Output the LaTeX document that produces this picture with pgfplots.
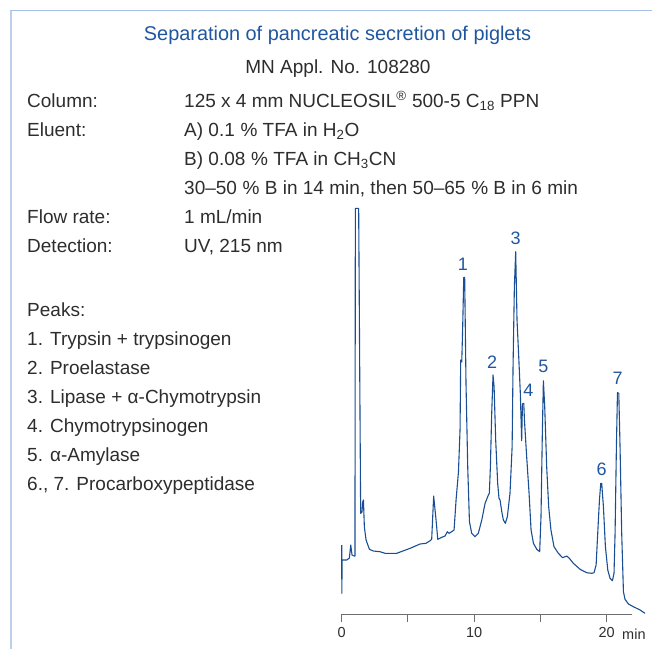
\documentclass[border=0pt]{standalone}
\usepackage{fontspec}
\setmainfont{Liberation Sans}
\usepackage{pgfplots}
\pgfplotsset{compat=1.18}

\definecolor{framecol}{RGB}{165,192,228}
\definecolor{frameleft}{RGB}{188,208,234}
\definecolor{titleblue}{RGB}{32,86,160}
\definecolor{curveblue}{RGB}{26,78,148}
\definecolor{bodytext}{RGB}{45,45,45}
\definecolor{axisgray}{RGB}{110,110,110}

\newcommand{\body}{\fontsize{19}{19}\selectfont\color{bodytext}}
\newcommand{\pc}{\hspace{0.3em}\%}

\begin{document}
\begin{tikzpicture}
\useasboundingbox (0,0) rectangle (652pt,-649pt);
\draw[frameleft, line width=2pt] (11pt,-649pt) -- (11pt,-10.5pt);
\draw[framecol, line width=1.6pt] (10pt,-10.5pt) -- (652pt,-10.5pt);

\tikzset{lab/.style={anchor=base west, inner sep=0pt, font=\body}}
\node[anchor=base, inner sep=0pt, font=\fontsize{19.9}{19.9}\selectfont, text=titleblue] at (337.5pt,-40pt) {Separation of pancreatic secretion of piglets};
\node[anchor=base, inner sep=0pt, font=\body] at (338pt,-73pt) {MN Appl. No. 108280};

\node[lab] at (27pt,-107pt) {Column:};
\node[lab] at (184pt,-107pt) {125 x 4 mm NUCLEOSIL\textsuperscript{®} 500-5 C\textsubscript{18} PPN};
\node[lab] at (27pt,-136pt) {Eluent:};
\node[lab] at (184pt,-136pt) {A) 0.1\pc{} TFA in H\textsubscript{2}O};
\node[lab] at (184pt,-165pt) {B) 0.08\pc{} TFA in CH\textsubscript{3}CN};
\node[lab] at (184pt,-194pt) {30--50\pc{} B in 14 min, then 50--65\pc{} B in 6 min};
\node[lab] at (27pt,-223pt) {Flow rate:};
\node[lab] at (184pt,-223pt) {1 mL/min};
\node[lab] at (27pt,-252pt) {Detection:};
\node[lab] at (184pt,-252pt) {UV, 215 nm};

\node[lab] at (27pt,-316pt) {Peaks:};
\node[lab] at (27pt,-345pt) {1. Trypsin + trypsinogen};
\node[lab] at (27pt,-374pt) {2. Proelastase};
\node[lab] at (27pt,-403pt) {3. Lipase + α-Chymotrypsin};
\node[lab] at (27pt,-432pt) {4. Chymotrypsinogen};
\node[lab] at (27pt,-461pt) {5. α-Amylase};
\node[lab] at (27pt,-490pt) {6., 7. Procarboxypeptidase};

\begin{axis}[
    at={(341.7pt,-614pt)}, anchor=south west,
    scale only axis,
    width=290.2pt, height=406pt,
    xmin=0, xmax=21.9, ymin=0, ymax=406,
    clip=false,
    axis x line=bottom, axis y line=none,
    x axis line style={-, axisgray, line width=1pt},
    xtick={0,5,10,15,20}, xticklabels={0,,10,,20},
    ytick=\empty,
    tick align=outside, major tick length=8pt,
    tick style={axisgray, line width=1pt},
    xticklabel style={font=\fontsize{14.5}{14.5}\selectfont, text=bodytext, yshift=-2pt},
    /pgf/number format/assume math mode=true,
]
\addplot[curveblue, line width=1.1pt, line join=round] coordinates {
(0,69) (0.01,20.7) (0.03,54) (0.38,54) (0.58,56) (0.68,69) (0.78,59) (0.93,58) (1.0,58)
(1.03,405.7) (1.28,405.7) (1.43,100.7) (1.53,102) (1.58,112) (1.64,114) (1.71,87) (1.84,74)
(2.09,64.7) (2.39,63) (2.89,62.3) (3.27,60.7) (4.15,60.7) (5.16,65.7) (5.91,70) (6.36,70.7)
(6.67,73.3) (6.79,74.7) (6.94,118) (7.12,94) (7.25,74.7) (7.55,76.7) (7.80,78) (7.97,82.3)
(8.10,80.7) (8.30,82.3) (8.48,84) (8.63,114) (8.81,142) (8.93,184) (8.98,254) (9.06,252)
(9.13,287) (9.21,336.7) (9.28,336.7) (9.38,230.7) (9.51,147) (9.64,92.3) (9.81,80.7)
(10.06,77.3) (10.31,80.7) (10.57,94) (10.82,110.7) (11.07,119) (11.14,120.7) (11.22,147)
(11.32,200.7) (11.42,239) (11.50,227.3) (11.62,174) (11.77,130.7) (11.87,115.7) (11.95,114)
(12.08,102.3) (12.20,94) (12.35,90.7) (12.50,97.3) (12.70,120.7) (12.86,167) (12.93,247)
(13.03,327) (13.13,362.3) (13.23,294) (13.36,257) (13.48,220.7) (13.58,173.3) (13.64,210)
(13.74,210.7) (13.79,194) (13.96,157) (14.14,120.7) (14.29,84) (14.47,70.7) (14.72,64.7)
(14.94,62.3) (15.04,97.3) (15.14,180.7) (15.22,233.3) (15.32,207.3) (15.47,147) (15.62,107.3)
(15.79,84) (16.02,67.3) (16.35,60.7) (16.67,56.3) (16.98,58) (17.18,55.7) (17.48,50.7)
(17.99,44.7) (18.49,41.3) (18.87,40.7) (19.04,41.3) (19.20,49) (19.32,80.7) (19.45,114)
(19.55,130.7) (19.62,130.7) (19.75,107.3) (19.90,67.3) (20.08,44) (20.25,35.7) (20.43,33.3)
(20.55,40.7) (20.63,80.7) (20.73,167.3) (20.81,221.3) (20.91,220.7) (21.01,164) (21.13,80.7)
(21.26,22.3) (21.38,14.7) (21.64,10) (22.01,7.3) (22.52,4) (22.89,0.7)
};
\begin{scope}[every node/.style={font=\fontsize{18}{18}\selectfont, text=titleblue, inner sep=0pt}]
\node at (axis cs:9.15,350) {1};
\node at (axis cs:11.36,252) {2};
\node at (axis cs:13.12,376) {3};
\node at (axis cs:14.08,224) {4};
\node at (axis cs:15.22,248) {5};
\node at (axis cs:19.62,145) {6};
\node at (axis cs:20.83,236) {7};
\end{scope}
\node[font=\fontsize{14.5}{14.5}\selectfont, text=bodytext, inner sep=0pt] at (axis cs:22.05,-20) {min};
\end{axis}
\end{tikzpicture}
\end{document}
